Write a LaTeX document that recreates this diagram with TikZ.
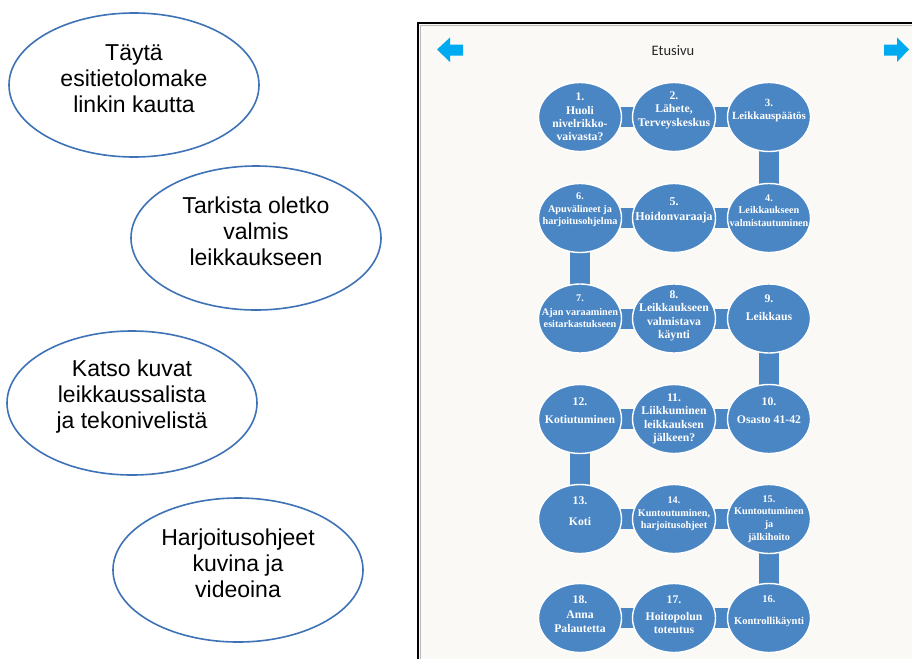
\documentclass[tikz,border=0pt]{standalone}
\usepackage{fontspec}
\setmainfont{Liberation Sans}
\newfontfamily\stepserif{Liberation Serif}
\newfontfamily\uifont{Carlito}
\usetikzlibrary{shapes.geometric}

\pgfdeclarelayer{screen}
\pgfdeclarelayer{links}
\pgfsetlayers{screen,links,main}

\definecolor{stepblue}{RGB}{74,134,196}
\definecolor{bubbleline}{RGB}{62,114,182}
\definecolor{screenbg}{RGB}{250,249,245}
\definecolor{navblue}{RGB}{0,170,240}

\tikzset{
  bubble/.style={ellipse, draw=bubbleline, line width=1.6pt,
    minimum width=250pt, minimum height=144pt, inner sep=0pt},
  bubbletext/.style={font=\fontsize{23}{26}\selectfont, align=center, inner sep=0pt},
  stepcirc/.style={ellipse, fill=stepblue, draw=white, line width=1.4pt,
    minimum width=83pt, minimum height=69pt, inner sep=0pt},
  steptext/.style={text=white, align=center, inner sep=0pt,
    font=\stepserif\bfseries\fontsize{11.7}{13.4}\selectfont},
  smalltext/.style={steptext, font=\stepserif\bfseries\fontsize{10.2}{12.6}\selectfont},
  link/.style={draw=stepblue, line width=20pt},
  navarrow/.style={fill=navblue},
}

\begin{document}
\begin{tikzpicture}[x=1pt,y=-1pt]
\useasboundingbox (0,0) rectangle (912,659);

% page and app screen
\begin{pgfonlayer}{screen}
  \fill[white] (0,0) rectangle (912,659);
  \fill[screenbg] (418,23) rectangle (912,659);
  \draw[gray!55, line width=1pt] (420.5,659) -- (420.5,25.5) -- (912,25.5);
  \draw[black, line width=2pt] (418,659) -- (418,23) -- (912,23);
\end{pgfonlayer}

% info bubbles
\node[bubble] (b1) at (134,85) {};
\node[bubbletext] (bt1) at ([yshift=6.5pt]b1.center) {Täytä\\esitietolomake\\linkin kautta};
\node[bubble] (b2) at (256,238) {};
\node[bubbletext] (bt2) at ([yshift=6.5pt]b2.center) {Tarkista oletko\\valmis\\leikkaukseen};
\node[bubble] (b3) at (132,403) {};
\node[bubbletext] (bt3) at ([yshift=6.5pt]b3.center) {Katso kuvat\\leikkaussalista\\ja tekonivelistä};
\node[bubble] (b4) at (238,570) {};
\node[bubbletext] (bt4) at ([yshift=6.5pt]b4.center) {Harjoitusohjeet\\kuvina ja\\videoina};

% screen header
\node[font=\uifont\fontsize{14.5}{17}\selectfont, text=black!85, inner sep=0pt] (title) at (673,51) {Etusivu};
\fill[navarrow] (437,49.5) -- (450,37.5) -- (450,44.5) -- (463,44.5) -- (463,55.5)
  -- (450,55.5) -- (450,62) -- cycle;
\fill[navarrow] (909,49.5) -- (897,37.5) -- (897,44.5) -- (884,44.5) -- (884,55.5)
  -- (897,55.5) -- (897,62) -- cycle;

% care path steps
\node[stepcirc] (s1)  at (580,117) {};
\node[stepcirc] (s2)  at (674,117) {};
\node[stepcirc] (s3)  at (769,117) {};
\node[stepcirc] (s4)  at (769,218) {};
\node[stepcirc] (s5)  at (674,218) {};
\node[stepcirc] (s6)  at (580,218) {};
\node[stepcirc] (s7)  at (580,318.5) {};
\node[stepcirc] (s8)  at (674,318.5) {};
\node[stepcirc] (s9)  at (769,318.5) {};
\node[stepcirc] (s10) at (769,419) {};
\node[stepcirc] (s11) at (674,419) {};
\node[stepcirc] (s12) at (580,419) {};
\node[stepcirc] (s13) at (580,519) {};
\node[stepcirc] (s14) at (674,519) {};
\node[stepcirc] (s15) at (769,519) {};
\node[stepcirc] (s16) at (769,618) {};
\node[stepcirc] (s17) at (674,618) {};
\node[stepcirc] (s18) at (580,618) {};

% connectors between consecutive steps
\begin{pgfonlayer}{links}
  \foreach \a/\b in {1/2,2/3,3/4,4/5,5/6,6/7,7/8,8/9,9/10,10/11,11/12,12/13,13/14,14/15,15/16,16/17,17/18}
    \draw[link] (s\a.center) -- (s\b.center);
\end{pgfonlayer}

% step labels
\node[steptext]  (t1)  at ([yshift=0pt]s1.center)   {1.\\Huoli\\nivelrikko-\\vaivasta?};
\node[steptext]  (t2)  at ([yshift=7pt]s2.center)   {2.\\Lähete,\\Terveyskeskus};
\node[steptext, font=\stepserif\bfseries\fontsize{11}{13}\selectfont]
                 (t3)  at ([yshift=6pt]s3.center)   {3.\\Leikkauspäätös};
\node[smalltext] (t4)  at ([yshift=7.5pt]s4.center) {4.\\Leikkaukseen\\valmistautuminen};
\node[steptext, font=\stepserif\bfseries\fontsize{12}{13.4}\selectfont]
                 (t5)  at ([yshift=7.5pt]s5.center) {5.\\[1.5pt]Hoidonvaraaja};
\node[smalltext] (t6)  at ([yshift=8pt]s6.center)   {6.\\Apuvälineet ja\\harjoitusohjelma};
\node[smalltext] (t7)  at ([yshift=7pt]s7.center)   {7.\\[1pt]Ajan varaaminen\\esitarkastukseen};
\node[steptext]  (t8)  at ([yshift=2.5pt]s8.center) {8.\\Leikkaukseen\\valmistava\\käynti};
\node[steptext]  (t9)  at ([yshift=11pt]s9.center)  {9.\\[5pt]Leikkaus};
\node[steptext]  (t10) at ([yshift=8.5pt]s10.center) {10.\\[5pt]Osasto 41-42};
\node[steptext]  (t11) at ([yshift=0pt]s11.center)  {11.\\Liikkuminen\\leikkauksen\\jälkeen?};
\node[steptext]  (t12) at ([yshift=8.5pt]s12.center) {12.\\[5pt]Kotiutuminen};
\node[steptext]  (t13) at ([yshift=8pt]s13.center)  {13.\\[8pt]Koti};
\node[smalltext] (t14) at ([yshift=5pt]s14.center)  {14.\\Kuntoutuminen,\\harjoitusohjeet};
\node[smalltext] (t15) at ([yshift=0pt]s15.center)  {15.\\Kuntoutuminen\\ja\\jälkihoito};
\node[smalltext, font=\stepserif\bfseries\fontsize{10.5}{12.6}\selectfont]
                 (t16) at ([yshift=7pt]s16.center)  {16.\\[9pt]Kontrollikäynti};
\node[steptext]  (t17) at ([yshift=3pt]s17.center)  {17.\\[3pt]Hoitopolun\\toteutus};
\node[steptext]  (t18) at ([yshift=4pt]s18.center)  {18.\\[2pt]Anna\\Palautetta};
\end{tikzpicture}
\end{document}
